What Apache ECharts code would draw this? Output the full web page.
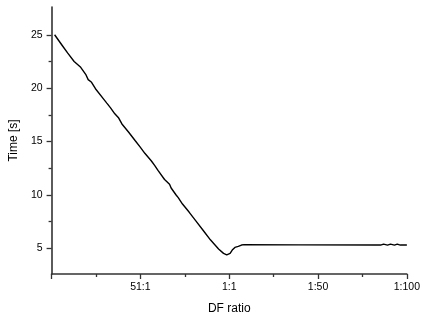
<!DOCTYPE html>
<html>
<head>
	<meta charset="utf-8">
	<script src="https://cdn.jsdelivr.net/npm/echarts@6/dist/echarts.min.js"></script>
	<title>DF ratio</title>
</head>
<body>
<style>
	html, body { margin: 0; padding: 0; background: #fff; }
	#main { width: 423px; height: 320px; }
</style>
<div id="main"></div>
<script type="text/javascript">
    // x position along the DF ratio axis (0 .. 200) and measured time
    var xs = [1.7, 6.2, 9.0, 12.7, 16.4, 19.2, 20.6, 22.5, 24.7, 29.3, 31.1, 33.2, 35.6, 37.8, 39.6,
              43.3, 47.0, 49.8, 52.5, 56.2, 58.1, 59.9, 63.6, 66.4, 67.3, 70.1, 71.3, 73.7, 77.4,
              81.1, 85.7, 89.4, 94.0, 96.8, 98.6, 100.5, 101.7, 103.2, 105.1, 106.9, 108.4,
              140, 182.5, 183.6, 185.2, 186.9, 189.1, 190.8, 193.0, 194.6, 196.3, 200];
    var times = [25.0, 23.95, 23.3, 22.5, 21.95, 21.3, 20.8, 20.55, 19.95, 18.98, 18.6, 18.16, 17.6, 17.2, 16.65,
                 15.9, 15.1, 14.5, 13.9, 13.18, 12.75, 12.3, 11.45, 11.0, 10.65, 10.0, 9.75, 9.15, 8.4,
                 7.6, 6.6, 5.8, 4.94, 4.53, 4.4, 4.53, 4.84, 5.09, 5.19, 5.31, 5.35,
                 5.33, 5.32, 5.4, 5.31, 5.4, 5.31, 5.4, 5.31, 5.4, 5.31, 5.31];

    var xTickVals = [0, 50, 100, 150, 200];
    var xTickLabels = ['', '51:1', '1:1', '1:50', '1:100'];
    var yTicks = [5, 10, 15, 20, 25];
    var yMinorTicks = [7.5, 12.5, 17.5, 22.5];

    var data = xs.map(function (x, i) { return [x, times[i]]; });

    var myChart = echarts.init(document.getElementById('main'));
    var axisCol = '#333';
    var font = 'Liberation Sans, Arial, sans-serif';

    var option = {
        animation: false,
        grid: { left: 50, right: 11.3, top: 7, bottom: 45.3 },
        xAxis: {
            type: 'value', min: 0, max: 200, interval: 50,
            name: 'DF ratio', nameLocation: 'middle', nameGap: 29,
            nameTextStyle: { color: '#000', fontSize: 12, fontFamily: font },
            axisLine: { lineStyle: { color: axisCol, width: 1.6 } },
            axisTick: { show: true, inside: false, length: 5, lineStyle: { color: axisCol, width: 1.3 } },
            minorTick: { show: true, splitNumber: 2, length: 3, lineStyle: { color: axisCol, width: 1.3 } },
            axisLabel: {
                color: '#000', fontSize: 10.5, fontFamily: font, margin: 8,
                formatter: function (v) {
                    var k = xTickVals.indexOf(v);
                    return k >= 0 ? xTickLabels[k] : '';
                }
            },
            splitLine: { show: false }
        },
        yAxis: [{
            type: 'value', min: 2.6, max: 27.6,
            name: 'Time [s]', nameLocation: 'middle', nameGap: 29,
            nameTextStyle: { color: '#000', fontSize: 12, fontFamily: font, padding: [0, 0, 0, 0] },
            axisLine: { show: true, lineStyle: { color: axisCol, width: 1.6 } },
            axisTick: { show: true, length: 5, customValues: yTicks, lineStyle: { color: axisCol, width: 1.3 } },
            axisLabel: { color: '#000', fontSize: 10.5, fontFamily: font, margin: 9, customValues: yTicks },
            splitLine: { show: false }
        }, {
            type: 'value', min: 2.6, max: 27.6, position: 'left',
            axisLine: { show: false },
            axisTick: { show: true, length: 3, customValues: yMinorTicks, lineStyle: { color: axisCol, width: 1.3 } },
            axisLabel: { show: false },
            splitLine: { show: false }
        }],
        series: [{
            type: 'line',
            data: data,
            showSymbol: false,
            smooth: false,
            color: '#000',
            lineStyle: { color: '#000', width: 1.4 }
        }]
    };

    myChart.setOption(option);
</script>
</body>
</html>
